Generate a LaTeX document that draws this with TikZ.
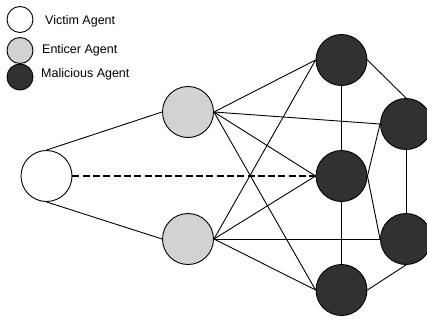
\documentclass[tikz,border=0pt]{standalone}
\usepackage{fontspec}
\setmainfont{Liberation Sans}
\definecolor{entgray}{HTML}{D2D2D2}
\definecolor{maldark}{HTML}{313131}
\begin{document}
\begin{tikzpicture}[x=1pt,y=-1pt,
  agent/.style={circle,draw=black,line width=0.9pt,minimum size=51pt,inner sep=0pt},
  victim/.style={agent,fill=white},
  enticer/.style={agent,fill=entgray},
  malic/.style={agent,fill=maldark},
  lagent/.style={circle,draw=black,line width=0.9pt,minimum size=26pt,inner sep=0pt},
  ltext/.style={anchor=west,inner sep=0pt,font=\fontsize{12.5}{14}\selectfont},
  link/.style={line width=0.9pt},
  dlink/.style={line width=2pt,dash pattern=on 7pt off 3.3pt}]
\useasboundingbox (0,0) rectangle (427,321);
\clip (0,0) rectangle (427,321);
% legend
\node[lagent,fill=white] (lv) at (20,19.5) {};
\node[lagent,fill=entgray] (le) at (20,50.5) {};
\node[lagent,fill=maldark] (lm) at (20,77) {};
\node[ltext] (tv) at (45,21) {Victim Agent};
\node[ltext] (te) at (42,50) {Enticer Agent};
\node[ltext] (tm) at (41,74) {Malicious Agent};
% agents
\node[victim] (v) at (46.5,176) {};
\node[enticer] (e1) at (188,112) {};
\node[enticer] (e2) at (188,239) {};
\node[malic] (m1) at (341.5,60) {};
\node[malic] (m2) at (341.5,176) {};
\node[malic] (m3) at (341.5,290) {};
\node[malic] (r1) at (406,124) {};
\node[malic] (r2) at (406,239) {};
% connectors
\draw[link] (v.north) -- (e1.west);
\draw[link] (v.south) -- (e2.west);
\draw[dlink] (v.east) -- (m2.west);
\draw[link] (e1.east) -- (m1.west);
\draw[link] (e1.east) -- (r1.west);
\draw[link] (e1.east) -- (m2.west);
\draw[link] (e1.east) -- (m3.west);
\draw[link] (e2.east) -- (m1.west);
\draw[link] (e2.east) -- (m2.west);
\draw[link] (e2.east) -- (r2.west);
\draw[link] (e2.east) -- (m3.west);
\draw[link] (m1.south) -- (m2.north);
\draw[link] (m2.south) -- (m3.north);
\draw[link] (m1.east) -- (r1.north);
\draw[link] (r1.south) -- (r2.north);
\draw[link] (m2.east) -- (r1.west);
\draw[link] (m2.east) -- (r2.west);
\draw[link] (m3.east) -- (r2.south);
\end{tikzpicture}
\end{document}
